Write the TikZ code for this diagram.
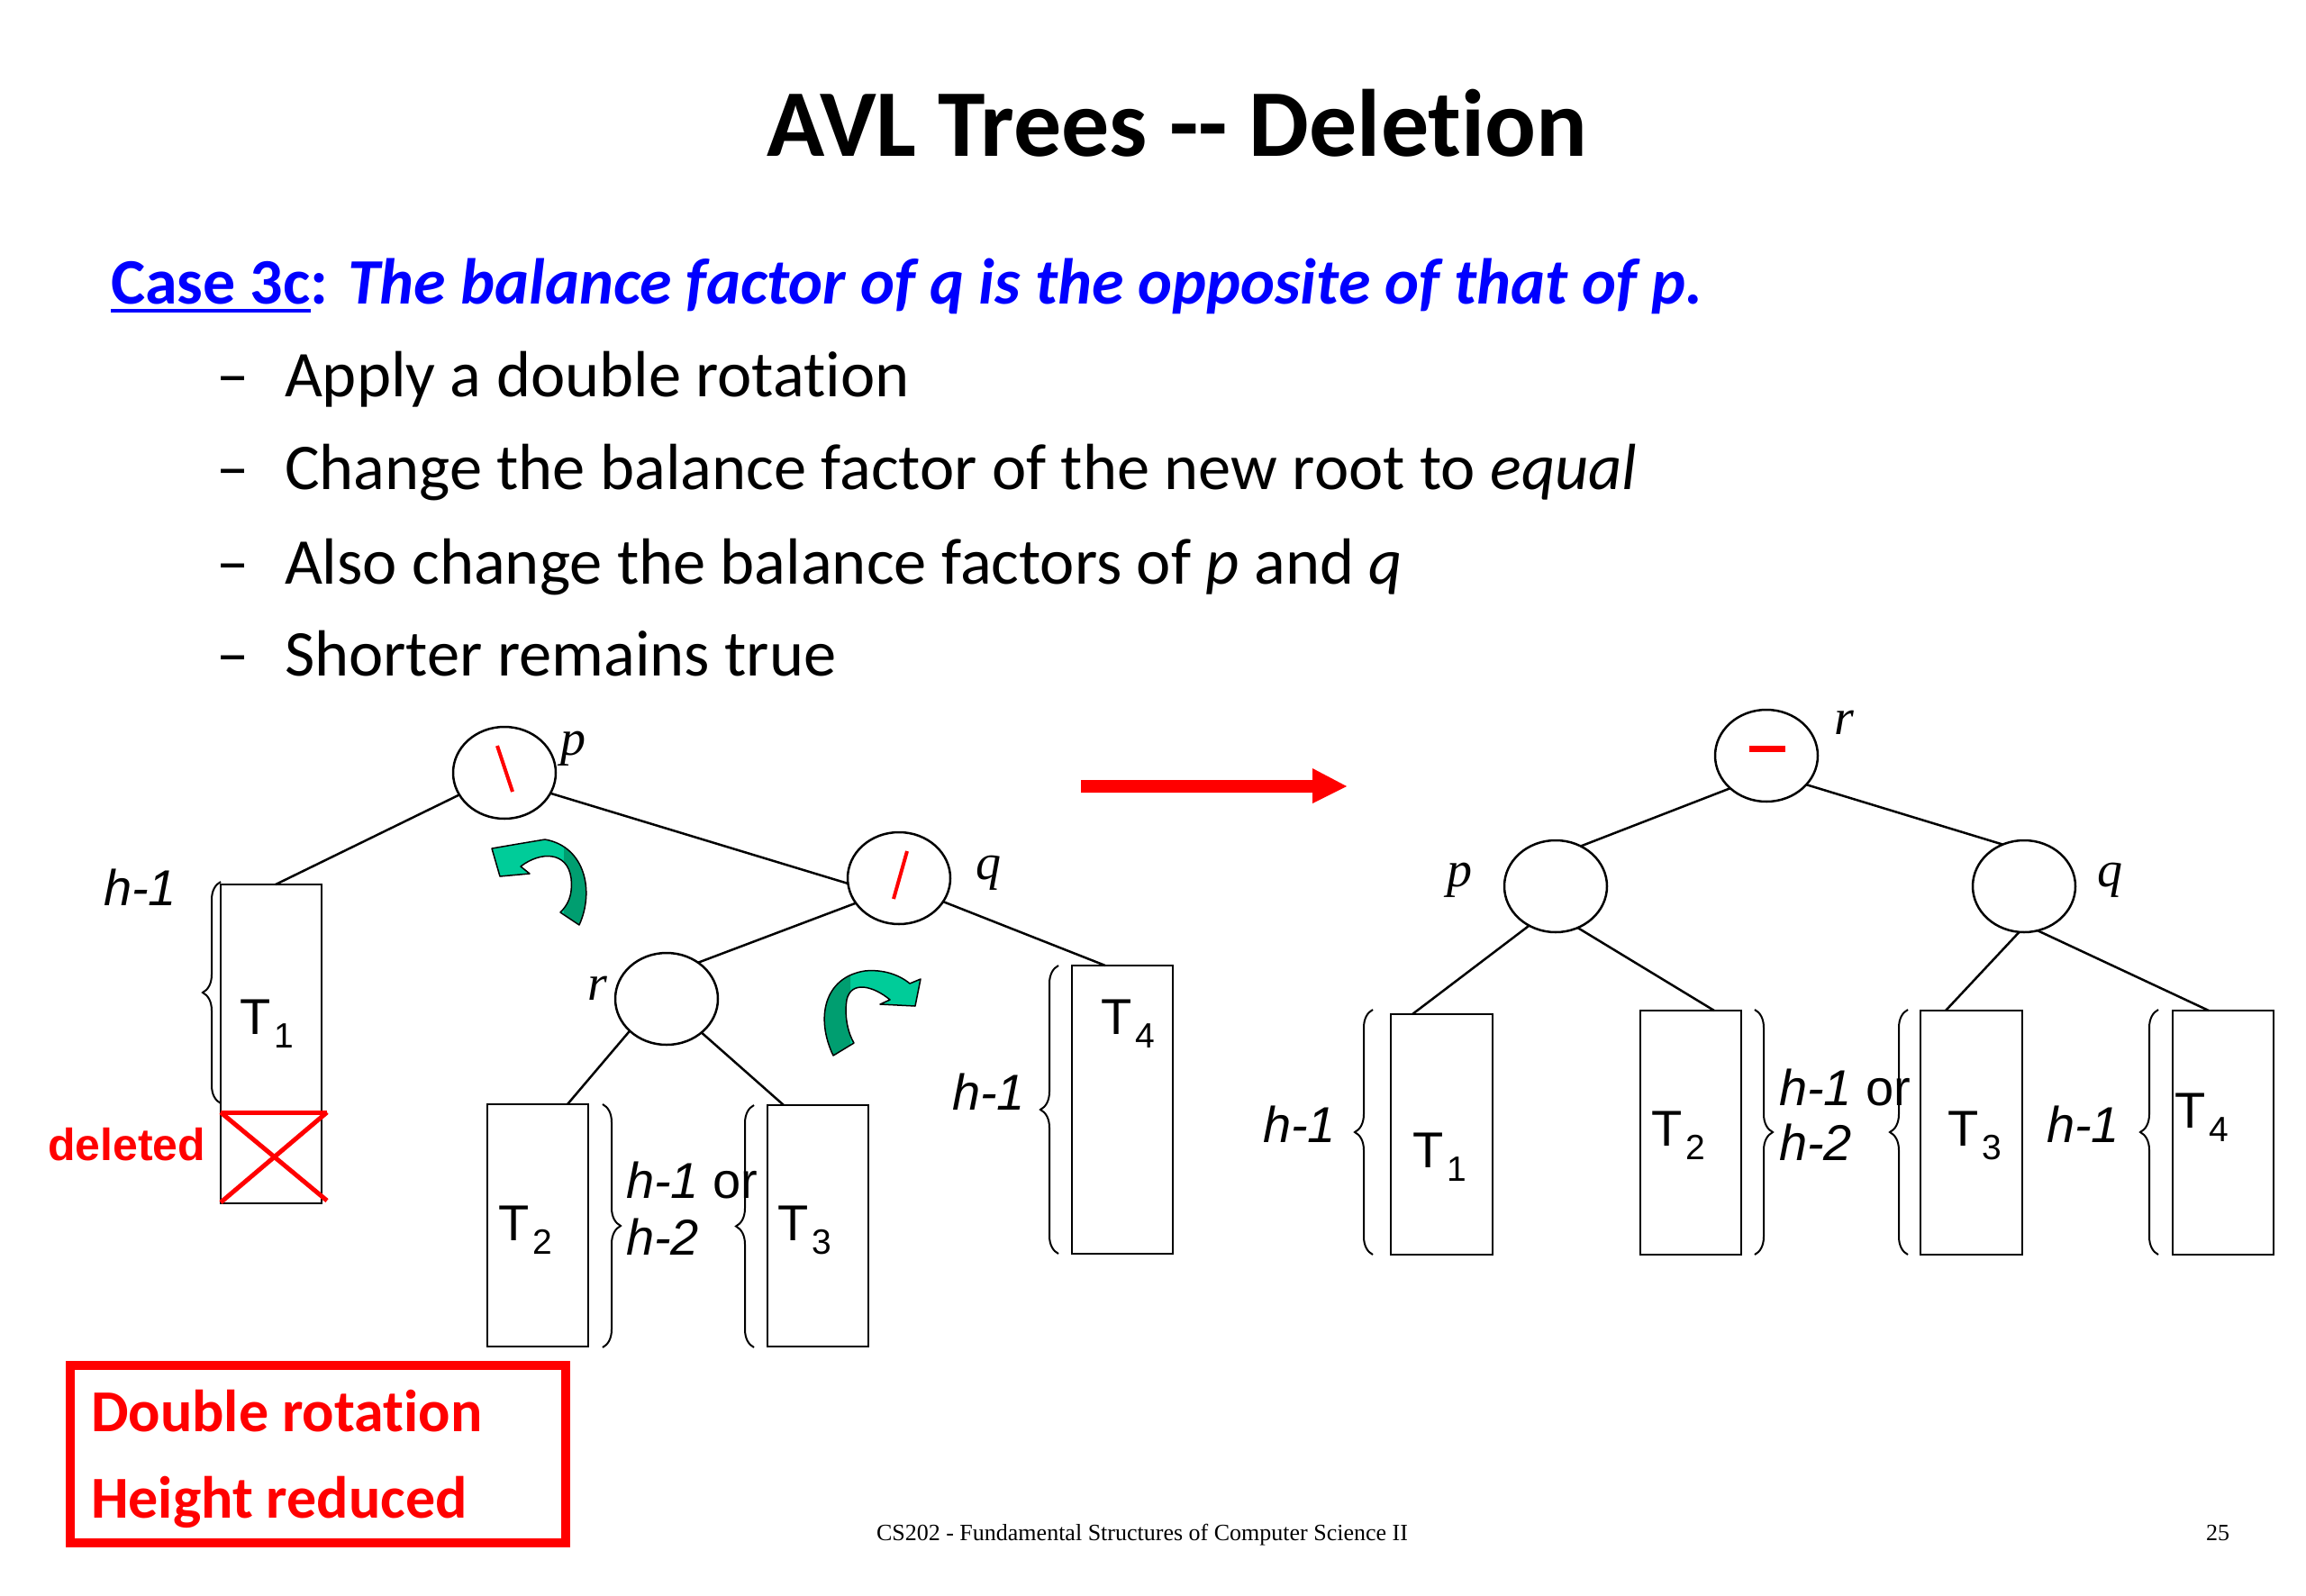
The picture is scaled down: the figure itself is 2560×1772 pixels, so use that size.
\documentclass[tikz,border=0pt]{standalone}
\usepackage{fontspec}
\setmainfont{Carlito}[Ligatures={TeX,NoCommon}]
\newfontfamily\arialf{Liberation Sans}
\newfontfamily\tnrf{Liberation Serif}
\usetikzlibrary{shapes.geometric,calc,decorations.pathreplacing}
\definecolor{pblue}{RGB}{0,0,255}
\definecolor{lgreen}{RGB}{0,204,153}
\definecolor{dgreen}{RGB}{0,158,112}
\newcommand\fs[1]{\fontsize{#1}{#1}\selectfont}
\newcommand\tsub[2]{#1\kern4pt\raisebox{-15pt}{\fs{39}#2}}
\begin{document}
\begin{tikzpicture}[x=1pt,y=-1pt,
  every node/.style={inner sep=0pt, outer sep=0pt},
  bf/.style={ellipse, draw, line width=2.5pt, minimum width=114pt, minimum height=102pt},
  subtree/.style={draw, line width=2.5pt, minimum width=112pt},
  edge/.style={line width=2.5pt},
  brc/.style={decorate, decoration={brace, amplitude=20pt}, line width=2pt},
  txt/.style={anchor=base west, font=\fs{72.5}},
  vlbl/.style={anchor=base west, font=\tnrf\itshape\fs{56}},
  hlbl/.style={anchor=base west, font=\arialf\itshape\fs{56}},
  tlbl/.style={anchor=base west, font=\arialf\fs{56}},
  garrow/.style={draw=black, line width=1.5pt, line join=round}]
\fill[white] (0,0) rectangle (2560,1772);
\useasboundingbox (0,0) rectangle (2560,1772);

% title and text
\node[anchor=base, font=\fs{106}\bfseries] (title) at (1307,173) {AVL Trees -{}- Deletion};
\node[anchor=base west, font=\fs{72}\bfseries, text=pblue] (case) at (123,337) {Case 3c};
\node[anchor=base west, font=\fs{72}\bfseries, text=pblue] (casetxt) at (case.base east) {: \itshape The balance factor of q is the opposite of that of p.};
\draw[pblue, line width=4pt] ([yshift=-8pt]case.base west) -- ([yshift=-8pt]case.base east);

\node[txt] (d1) at (240,440) {–};
\node[txt] (b1) at (316,440) {Apply a double rotation};
\node[txt] (d2) at (240,543) {–};
\node[txt] (b2) at (316,543) {Change the balance factor of the new root to \textit{equal}};
\node[txt] (d3) at (240,648) {–};
\node[txt] (b3) at (316,648) {Also change the balance factors of \textit{p} and \textit{q}};
\node[txt] (d4) at (240,750) {–};
\node[txt] (b4) at (316,750) {Shorter remains true};

% left tree
\node[bf] (lp) at (560,858) {};
\node[bf] (lq) at (998,975) {};
\node[bf] (lr) at (740,1109) {};
\draw[red, line width=4pt] ($(lp)+(-8,-30)$) -- ($(lp)+(9,21)$);
\draw[red, line width=4pt] ($(lq)+(9,-30)$) -- ($(lq)+(-6,23)$);
\node[vlbl] (lpl) at (622,838) {p};
\node[vlbl] (lql) at (1083,976) {q};
\node[vlbl] (lrl) at (652,1110) {r};

\node[subtree, minimum height=354pt] (lT1) at (301,1159) {};
\node[subtree, minimum height=269pt] (lT2) at (597,1360.5) {};
\node[subtree, minimum height=268pt] (lT3) at (908,1361) {};
\node[subtree, minimum height=320pt] (lT4) at (1246,1232) {};

\draw[edge] (lp.206) -- ($(lT1.north west)+(61,0)$);
\draw[edge] (lp.336) -- (lq.186);
\draw[edge] (lq.210) -- (lr.49);
\draw[edge] (lq.332) -- ($(lT4.north west)+(37,0)$);
\draw[edge] (lr.221) -- ($(lT2.north west)+(89,0)$);
\draw[edge] (lr.316) -- ($(lT3.north west)+(18,0)$);

\node[tlbl] (lT1l) at (266,1148) {\tsub{T}{1}};
\node[tlbl] (lT2l) at (553,1377) {\tsub{T}{2}};
\node[tlbl] (lT3l) at (863,1377) {\tsub{T}{3}};
\node[tlbl] (lT4l) at (1222,1148) {\tsub{T}{4}};

% deleted part
\draw[red, line width=5pt] (245,1235) -- (363,1235);
\draw[red, line width=5pt] (245,1235) -- (363,1333);
\draw[red, line width=5pt] (245,1335) -- (363,1235);
\node[anchor=base west, font=\arialf\bfseries\fs{50}, text=red] (del) at (53,1288) {deleted};

% braces left
\draw[brc] (245,1225) -- (245,979);
\node[hlbl] (h1a) at (115,1005) {h-1};
\draw[brc] (669,1226) -- (669,1496);
\draw[brc] (837,1496) -- (837,1227);
\node[hlbl] (h1b) at (695,1330) {h-1 \upshape or};
\node[hlbl] (h2b) at (695,1393) {h-2};
\draw[brc] (1175,1392) -- (1175,1072);
\node[hlbl] (h1c) at (1057,1232) {h-1};

% green rotation arrows
\path[save path=\garrowA] (643,1027) .. controls (660,990) and (650,940) .. (605,932) -- (575,937) -- (546,942) -- (555,973) -- (588,970) -- (578,962) .. controls (600,945) and (630,945) .. (634,975) .. controls (636,995) and (630,1005) .. (622,1013) -- cycle;
\fill[lgreen, use path=\garrowA];
\begin{scope}
\clip (626,900) rectangle (700,1040);
\fill[dgreen, use path=\garrowA];
\end{scope}
\draw[garrow, use path=\garrowA];

\path[save path=\garrowB] (925,1172) .. controls (905,1130) and (915,1085) .. (960,1078) .. controls (980,1076) and (998,1082) .. (1010,1092) -- (1022,1087) -- (1016,1117) -- (977,1115) -- (988,1110) .. controls (970,1095) and (945,1088) .. (940,1110) .. controls (937,1130) and (942,1148) .. (948,1158) -- cycle;
\fill[lgreen, use path=\garrowB];
\begin{scope}
\clip (880,1060) rectangle (944,1180);
\fill[dgreen, use path=\garrowB];
\end{scope}
\draw[garrow, use path=\garrowB];

% red transform arrow
\fill[red] (1200,866) -- (1457,866) -- (1457,853) -- (1495,873) -- (1457,892) -- (1457,880) -- (1200,880) -- cycle;

% right tree
\node[bf] (rr) at (1961,839) {};
\node[bf] (rp) at (1727,984) {};
\node[bf] (rq) at (2247,984) {};
\draw[red, line width=7pt] ($(rr)+(-19,-8)$) -- ($(rr)+(21,-8)$);
\node[vlbl] (rrl) at (2036,815) {r};
\node[vlbl] (rpl) at (1606,984) {p};
\node[vlbl] (rql) at (2328,984) {q};

\node[subtree, minimum width=113pt, minimum height=267pt] (rT1) at (1600.5,1259.5) {};
\node[subtree, minimum height=271pt] (rT2) at (1877,1257.5) {};
\node[subtree, minimum width=113pt, minimum height=271pt] (rT3) at (2188.5,1257.5) {};
\node[subtree, minimum height=271pt] (rT4) at (2468,1257.5) {};

\draw[edge] (rr.222) -- (rp.58);
\draw[edge] (rr.324) -- (rq.117);
\draw[edge] (rp.236) -- ($(rT1.north west)+(24,0)$);
\draw[edge] (rp.298) -- ($(rT2.north west)+(82,0)$);
\draw[edge] (rq.264) -- ($(rT3.north west)+(28,0)$);
\draw[edge] (rq.287) -- ($(rT4.north west)+(40,0)$);

\node[tlbl] (rT1l) at (1568,1296) {\tsub{T}{1}};
\node[tlbl] (rT2l) at (1833,1272) {\tsub{T}{2}};
\node[tlbl] (rT3l) at (2162,1272) {\tsub{T}{3}};
\node[tlbl] (rT4l) at (2414,1252) {\tsub{T}{4}};

\draw[brc] (1524,1393) -- (1524,1121);
\node[hlbl] (h1d) at (1402,1268) {h-1};
\draw[brc] (1948,1121) -- (1948,1393);
\node[hlbl] (h1e) at (1975,1227) {h-1 \upshape or};
\node[hlbl] (h2e) at (1975,1288) {h-2};
\draw[brc] (2118,1393) -- (2118,1121);
\node[hlbl] (h1f) at (2272,1268) {h-1};
\draw[brc] (2396,1393) -- (2396,1121);

% summary box
\node[draw=red, line width=10pt, minimum width=550pt, minimum height=197pt] (rbox) at (353,1614.5) {};
\node[anchor=base west, font=\fs{66}\bfseries, text=red] (s1) at (101,1589) {Double rotation};
\node[anchor=base west, font=\fs{66}\bfseries, text=red] (s2) at (101,1685) {Height reduced};

% footer
\node[anchor=base, font=\tnrf\fs{26}] (foot) at (1268,1710) {CS202 - Fundamental Structures of Computer Science II};
\node[anchor=base west, font=\tnrf\fs{26}] (pg) at (2449,1710) {25};
\end{tikzpicture}
\end{document}
